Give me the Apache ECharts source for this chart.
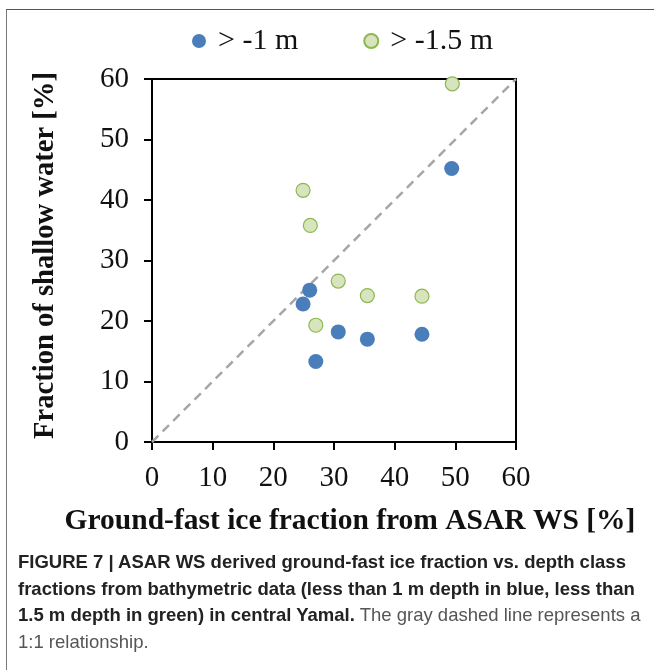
<!DOCTYPE html>
<html>
<head>
<meta charset="utf-8">
<script src="https://cdn.jsdelivr.net/npm/echarts@6/dist/echarts.min.js"></script>
<style>
  html, body { margin: 0; padding: 0; background: #fff; }
  #wrap { position: relative; width: 654px; height: 670px; overflow: hidden; }
  #frame { position: absolute; left: 6px; top: 9px; width: 700px; height: 700px;
           border-left: 1.5px solid #777; border-top: 1.5px solid #555; }
  #chart { position: absolute; left: 0; top: 0; width: 654px; height: 670px; }
  #caption { position: absolute; left: 18px; top: 549px; font-family: "Liberation Sans", Arial, sans-serif;
             font-size: 18.5px; line-height: 26.5px; color: #555; white-space: nowrap; }
  #caption b { color: #222; }
</style>
</head>
<body>
<div id="wrap">
  <div id="frame"></div>
  <div id="chart"></div>
  <div id="caption">
    <b>FIGURE 7 | ASAR WS derived ground-fast ice fraction vs. depth class</b><br>
    <b>fractions from bathymetric data (less than 1 m depth in blue, less than</b><br>
    <b>1.5 m depth in green) in central Yamal.</b> The gray dashed line represents a<br>
    1:1 relationship.
  </div>
</div>
<script>
// ground-fast ice fraction (x) vs. shallow water fraction (y), in %
const depth1m = [
  [49.4, 45.2], [26.0, 25.1], [24.9, 22.8], [30.7, 18.2],
  [35.5, 17.0], [44.5, 17.8], [27.0, 13.3]
];
const depth15m = [
  [49.5, 59.2], [24.9, 41.6], [26.1, 35.8], [30.7, 26.6],
  [35.5, 24.2], [44.5, 24.1], [27.0, 19.3]
];
const oneToOne = [[0, 0], [60, 60]];
const axisTicks = [0, 10, 20, 30, 40, 50, 60];

const serif = '"Liberation Serif", "Times New Roman", serif';

const myChart = echarts.init(document.getElementById('chart'));

const option = {
  backgroundColor: 'transparent',
  animation: false,
  legend: {
    top: 21,
    left: 187,
    itemGap: 65,
    itemWidth: 14,
    itemHeight: 14,
    textStyle: { fontFamily: serif, fontSize: 30, color: '#111', padding: [0, 0, 0, 7] },
    data: [
      { name: '> -1 m', icon: 'circle' },
      { name: '> -1.5 m', icon: 'circle' }
    ]
  },
  grid: {
    left: 152, right: 138, top: 79, bottom: 228,
    show: true, borderColor: '#000', borderWidth: 2
  },
  xAxis: {
    type: 'value',
    min: axisTicks[0], max: axisTicks[axisTicks.length - 1], interval: 10,
    name: 'Ground-fast ice fraction from ASAR WS [%]',
    nameLocation: 'middle',
    nameGap: 64,
    nameTextStyle: { fontFamily: serif, fontSize: 29.5, fontWeight: 'bold', color: '#111', padding: [0, 0, 0, 32] },
    axisLine: { show: true, lineStyle: { color: '#000', width: 2 } },
    axisTick: { show: true, inside: false, length: 8, lineStyle: { color: '#000', width: 2 } },
    axisLabel: { fontFamily: serif, fontSize: 29, color: '#111', margin: 22 },
    splitLine: { show: false }
  },
  yAxis: {
    type: 'value',
    min: axisTicks[0], max: axisTicks[axisTicks.length - 1], interval: 10,
    name: 'Fraction of shallow water [%]',
    nameLocation: 'middle',
    nameGap: 92,
    nameTextStyle: { fontFamily: serif, fontSize: 28.6, fontWeight: 'bold', color: '#111', padding: [0, 0, 0, 10] },
    axisLine: { show: true, lineStyle: { color: '#000', width: 2 } },
    axisTick: { show: true, inside: false, length: 8, lineStyle: { color: '#000', width: 2 } },
    axisLabel: { fontFamily: serif, fontSize: 29, color: '#111', margin: 23 },
    splitLine: { show: false }
  },
  series: [
    {
      name: '1:1',
      type: 'line',
      data: oneToOne,
      symbol: 'none',
      silent: true,
      lineStyle: { color: '#A6A6A6', width: 2.5, type: [9, 6] },
      z: 1
    },
    {
      name: '> -1 m',
      type: 'scatter',
      data: depth1m,
      symbol: 'circle',
      symbolSize: 15,
      itemStyle: { color: '#4A7EBB', opacity: 1 },
      z: 3
    },
    {
      name: '> -1.5 m',
      type: 'scatter',
      data: depth15m,
      symbol: 'circle',
      symbolSize: 14,
      itemStyle: { color: '#D7E4BD', borderColor: '#8DB851', borderWidth: 1.2, opacity: 1 },
      z: 2
    }
  ]
};

myChart.setOption(option, true);
</script>
</body>
</html>
